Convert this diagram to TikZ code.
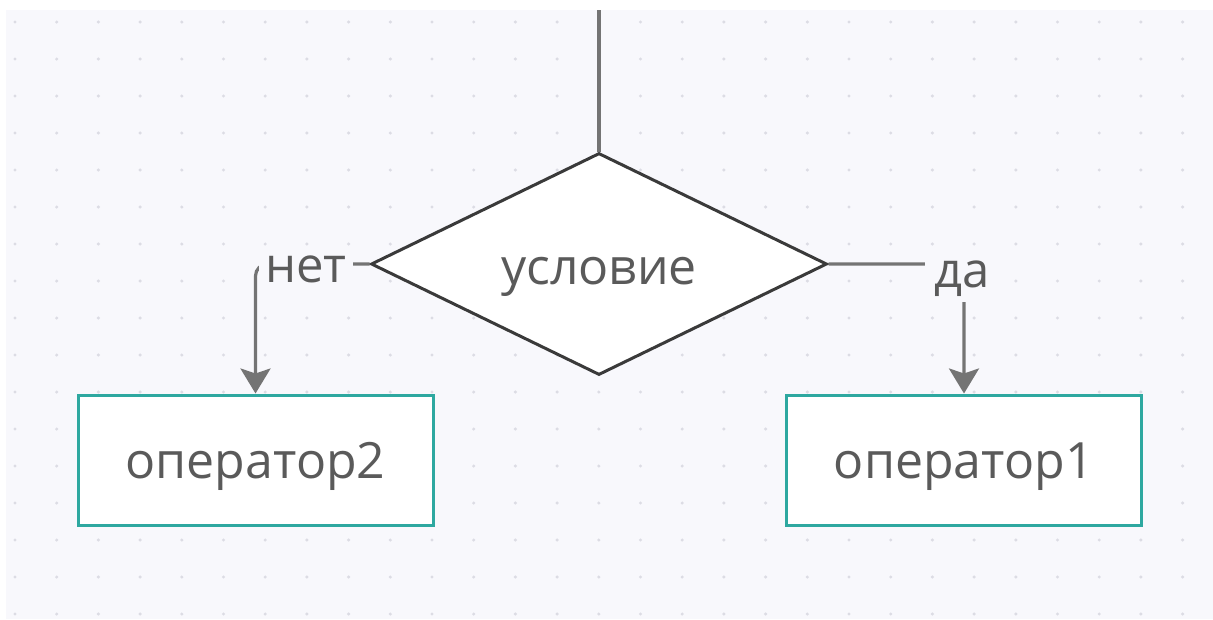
\documentclass[tikz,border=0pt]{standalone}
\usepackage{fontspec}
\setmainfont{Open Sans}
\usetikzlibrary{shapes.geometric,arrows.meta}
\definecolor{bggray}{HTML}{F8F8FC}
\definecolor{dotgray}{HTML}{DCDCE4}
\definecolor{linegray}{HTML}{747474}
\definecolor{darkline}{HTML}{3A3A3A}
\definecolor{textgray}{HTML}{5A5A5A}
\definecolor{boxteal}{HTML}{2EA8A0}
\tikzset{
  cond/.style={diamond,draw=darkline,line width=3pt,fill=white,aspect=2.05,
    minimum width=456pt,minimum height=222pt,inner sep=0pt,text=textgray,
    text height=40pt,text depth=0pt},
  op/.style={rectangle,draw=boxteal,line width=3pt,fill=white,
    minimum width=355pt,minimum height=130pt,text=textgray,
    text height=36pt,text depth=0pt},
  conn/.style={draw=linegray,line width=3.2pt},
  lbl/.style={fill=bggray,inner sep=6pt,text=textgray,anchor=base}
}
\begin{document}
\begin{tikzpicture}[x=1pt,y=-1pt,font=\fontsize{50}{58}\selectfont]
      \useasboundingbox (0,0) rectangle (1213,619);
      \fill[white] (0,0) rectangle (1213,619);
      \fill[bggray] (6,10) rectangle (1213,619);
      % dot grid
      \foreach \i in {0,...,28}
        \foreach \j in {0,...,16}
          \fill[dotgray] (15+\i*41.7,22+\j*37) circle (1.7);
      \coordinate (top) at (599,10) ;
      \node[cond] (cond) at (599,264) {условие};
      \node[op] (op2) at (255.5,460) {оператор2};
      \node[op] (op1) at (964,460) {оператор1};
      \draw[conn] (top) -- (cond.north);
      \draw[conn,rounded corners=12pt,-{Stealth[length=25pt,width=30pt,inset=5pt]}]
        (cond.west) -| (op2.north);
      \draw[conn,rounded corners=12pt,-{Stealth[length=25pt,width=30pt,inset=5pt]}]
        (cond.east) -| (op1.north);
      \node[lbl,font=\fontsize{49}{56}\selectfont] (no) at (306,282) {нет};
      \node[lbl,inner xsep=9pt,font=\fontsize{49}{56}\selectfont] (yes) at (962,287) {да};
    \end{tikzpicture}
\end{document}
